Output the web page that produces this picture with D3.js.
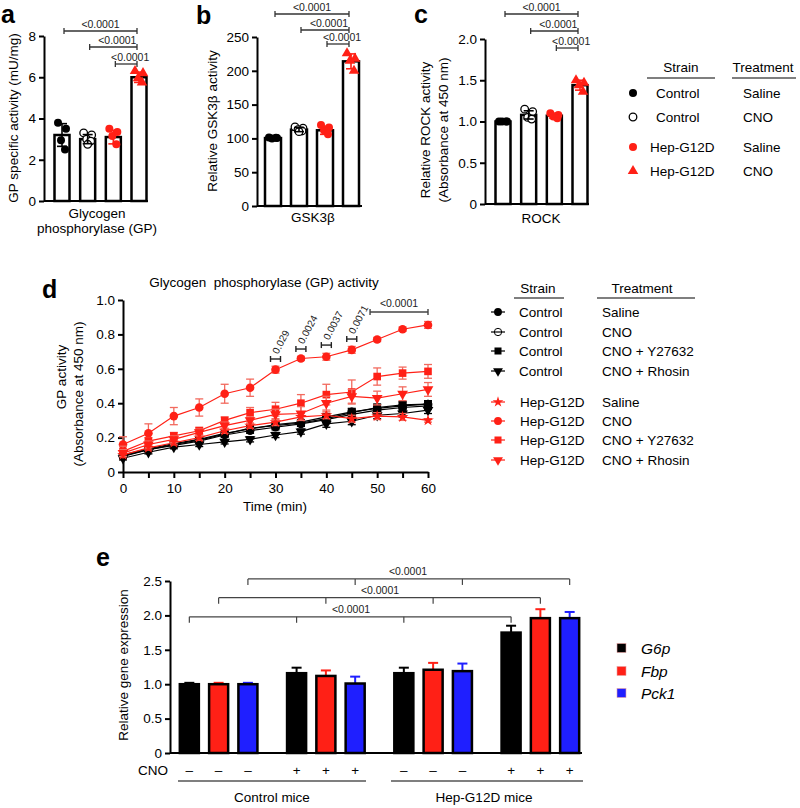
<!DOCTYPE html>
<html>
<head>
<meta charset="utf-8">
<script src="https://cdn.jsdelivr.net/npm/d3@7"></script>
<style>
  body { margin: 0; background: #fff; }
</style>
</head>
<body>
<div id="container"></div>
<script>
const FONT = '"Liberation Sans", Arial, Helvetica, sans-serif';
const RED = "#ff2016";
const BLUE = "#1f1fff";

// ---- panels a, b, c ----
const groups = ["Control Saline", "Control CNO", "Hep-G12D Saline", "Hep-G12D CNO"];
const gpMean = [3.2, 3.0, 3.1, 6.0];
const gpSD = [0.55, 0.22, 0.33, 0.25];
const gpPts = [[3.8, 3.5, 2.95, 2.5], [3.3, 3.2, 3.0, 2.9, 2.75], [3.5, 3.35, 3.15, 2.75], [6.3, 6.2, 5.95, 5.75]];
const gskMean = [100.5, 113, 112, 214];
const gskSD = [1.2, 3, 6, 11];
const gskPts = [[101.5, 100.5, 100, 101], [117, 115, 113, 111, 110], [120, 116, 112, 106], [226, 218, 215, 200]];
const rockMean = [1.0, 1.08, 1.07, 1.44];
const rockSD = [0.01, 0.05, 0.03, 0.06];
const rockPts = [[1.0, 1.0, 1.0, 1.0], [1.15, 1.12, 1.05, 1.03], [1.1, 1.08, 1.06, 1.04], [1.5, 1.47, 1.44, 1.36]];
const pLabel = "<0.0001";

// ---- panel d ----
const timeMin = [0, 5, 10, 15, 20, 25, 30, 35, 40, 45, 50, 55, 60];
const ctrlSaline = [0.09, 0.13, 0.155, 0.18, 0.215, 0.24, 0.26, 0.28, 0.305, 0.335, 0.36, 0.375, 0.385];
const ctrlCNO = [0.10, 0.135, 0.165, 0.19, 0.225, 0.25, 0.275, 0.29, 0.32, 0.35, 0.37, 0.385, 0.395];
const ctrlY = [0.095, 0.13, 0.16, 0.185, 0.22, 0.255, 0.27, 0.285, 0.31, 0.345, 0.375, 0.39, 0.395];
const ctrlRho = [0.08, 0.115, 0.145, 0.16, 0.175, 0.19, 0.215, 0.235, 0.28, 0.295, 0.33, 0.34, 0.36];
const hepSaline = [0.10, 0.14, 0.17, 0.20, 0.24, 0.27, 0.29, 0.32, 0.33, 0.31, 0.325, 0.32, 0.30];
const hepCNO = [0.16, 0.225, 0.325, 0.375, 0.455, 0.49, 0.595, 0.66, 0.67, 0.71, 0.77, 0.83, 0.855];
const hepY = [0.12, 0.18, 0.21, 0.24, 0.30, 0.345, 0.365, 0.40, 0.45, 0.465, 0.555, 0.575, 0.585];
const hepRho = [0.11, 0.16, 0.19, 0.23, 0.27, 0.30, 0.335, 0.34, 0.40, 0.44, 0.43, 0.455, 0.48];
const ctrlErr = [0.01, 0.01, 0.01, 0.012, 0.012, 0.015, 0.015, 0.015, 0.02, 0.02, 0.02, 0.02, 0.02];
const hepSalineErr = [0.01, 0.012, 0.012, 0.015, 0.015, 0.015, 0.02, 0.02, 0.02, 0.02, 0.02, 0.02, 0.01];
const hepCNOErr = [0.045, 0.055, 0.05, 0.05, 0.055, 0.05, 0.02, 0.012, 0.02, 0.02, 0.012, 0.012, 0.02];
const hepYErr = [0.03, 0.02, 0.02, 0.02, 0.02, 0.03, 0.04, 0.05, 0.06, 0.07, 0.05, 0.035, 0.04];
const hepRhoErr = [0.02, 0.02, 0.02, 0.02, 0.02, 0.02, 0.03, 0.04, 0.04, 0.04, 0.04, 0.04, 0.04];
const sigTimes = [30, 35, 40, 45];
const sigLabels = ["0.029", "0.0024", "0.0037", "0.0071"];
const sigLevels = [0.657, 0.715, 0.738, 0.773];

// ---- panel e ----
const eGroups = ["Control -", "Control +", "Hep-G12D -", "Hep-G12D +"];
const genes = ["G6p", "Fbp", "Pck1"];
const g6pMean = [1.0, 1.16, 1.16, 1.75];
const g6pErr = [0.02, 0.08, 0.08, 0.1];
const fbpMean = [1.0, 1.12, 1.21, 1.96];
const fbpErr = [0.02, 0.08, 0.1, 0.13];
const pck1Mean = [1.0, 1.01, 1.19, 1.96];
const pck1Err = [0.02, 0.1, 0.11, 0.09];
const cnoSigns = ["–", "+", "–", "+"];

const svg = d3.select("#container").append("svg")
  .attr("width", 800).attr("height", 808)
  .style("background", "#fff")
  .attr("font-family", FONT);

function txt(x, y, s, size, anchor, extra) {
  const t = svg.append("text").attr("x", x).attr("y", y).text(s)
    .attr("font-size", size).attr("text-anchor", anchor || "start").attr("fill", "#000");
  if (extra) extra(t);
  return t;
}

function styleAxis(g, size) {
  g.attr("font-family", FONT);
  g.select(".domain").attr("stroke", "#000").attr("stroke-width", 2);
  g.selectAll(".tick line").attr("stroke", "#000").attr("stroke-width", 2);
  g.selectAll(".tick text").attr("font-size", size || 13).attr("fill", "#000");
}

function marker(sel, kind, x, y) {
  if (kind === 0) sel.append("circle").attr("cx", x).attr("cy", y).attr("r", 4).attr("fill", "#000");
  else if (kind === 1) sel.append("circle").attr("cx", x).attr("cy", y).attr("r", 3.8).attr("fill", "#fff").attr("stroke", "#000").attr("stroke-width", 1.3);
  else if (kind === 2) sel.append("circle").attr("cx", x).attr("cy", y).attr("r", 4).attr("fill", RED);
  else sel.append("path").attr("d", d3.symbol(d3.symbolTriangle, 48)())
    .attr("transform", `translate(${x},${y})`).attr("fill", RED);
}

const jit = [-4, 4, -1, 3, 0];

function barPanel(cfg) {
  const x = d3.scalePoint().domain(groups).range(cfg.xr);
  const y = d3.scaleLinear().domain(cfg.yd).range(cfg.yr);
  const g = svg.append("g");
  g.append("g").attr("transform", `translate(${cfg.ax},0)`)
    .call(d3.axisLeft(y).tickValues(cfg.ticks).tickFormat(cfg.fmt).tickSize(5).tickSizeOuter(0))
    .call(a => styleAxis(a, 13.5));
  g.append("line").attr("x1", cfg.ax).attr("x2", cfg.xend)
    .attr("y1", y(0)).attr("y2", y(0)).attr("stroke", "#000").attr("stroke-width", 2);
  const bw = cfg.bw;
  groups.forEach((gr, i) => {
    g.append("rect").attr("x", x(gr) - bw / 2).attr("y", y(cfg.mean[i]))
      .attr("width", bw).attr("height", y(0) - y(cfg.mean[i]))
      .attr("fill", "#fff").attr("stroke", "#000").attr("stroke-width", 2.5);
    cfg.pts[i].forEach((v, j) => marker(g, i, x(gr) + jit[j], y(v)));
    const col = i < 2 ? "#000" : RED;
    const y1 = y(cfg.mean[i] - cfg.sd[i]), y2 = y(cfg.mean[i] + cfg.sd[i]);
    g.append("line").attr("x1", x(gr)).attr("x2", x(gr)).attr("y1", y1).attr("y2", y2).attr("stroke", col).attr("stroke-width", 1.6);
    [y1, y2].forEach(yy => g.append("line").attr("x1", x(gr) - 5).attr("x2", x(gr) + 5)
      .attr("y1", yy).attr("y2", yy).attr("stroke", col).attr("stroke-width", 1.6));
  });
  // significance brackets
  cfg.brackets.forEach((yy, k) => {
    const x1 = x(groups[k]) + 2, x2 = x(groups[3]) - 2;
    g.append("line").attr("x1", x1).attr("x2", x2).attr("y1", yy).attr("y2", yy).attr("stroke", "#333").attr("stroke-width", 1.3);
    [x1, x2].forEach(xx => g.append("line").attr("x1", xx).attr("x2", xx).attr("y1", yy - 3).attr("y2", yy + 3).attr("stroke", "#333").attr("stroke-width", 1.3));
    g.append("text").attr("x", (x1 + x2) / 2 + (k === 0 ? 0 : 4)).attr("y", yy - 3).text(pLabel)
      .attr("font-size", 10.5).attr("text-anchor", "middle").attr("fill", "#222");
  });
}

// panel a
barPanel({ xr: [62, 139], ax: 44, xend: 148, bw: 15, yd: [0, 8], yr: [201, 36],
  ticks: [0, 2, 4, 6, 8], fmt: d3.format("d"), mean: gpMean, sd: gpSD, pts: gpPts, brackets: [31, 47, 64] });
// panel b
barPanel({ xr: [273, 351], ax: 257, xend: 362, bw: 16, yd: [0, 250], yr: [206, 37],
  ticks: [0, 50, 100, 150, 200, 250], fmt: d3.format("d"), mean: gskMean, sd: gskSD, pts: gskPts, brackets: [14, 30, 44] });
// panel c
barPanel({ xr: [503, 580], ax: 485, xend: 589, bw: 15, yd: [0, 2], yr: [204, 39],
  ticks: [0, 0.5, 1, 1.5, 2], fmt: d => d === 0 ? "0" : d3.format(".1f")(d), mean: rockMean, sd: rockSD, pts: rockPts, brackets: [14, 31, 48] });

const rot = (x, y) => t => t.attr("transform", `rotate(-90,${x},${y})`);
txt(18, 118, "GP specific activity (mU/mg)", 13.5, "middle", rot(18, 118));
txt(97, 218, "Glycogen", 13.5, "middle");
txt(97, 233, "phosphorylase (GP)", 13.5, "middle");
txt(217, 121, "Relative GSK3β activity", 13.5, "middle", rot(217, 121));
txt(313, 222, "GSK3β", 13.5, "middle");
txt(430, 130, "Relative ROCK activity", 13.5, "middle", rot(430, 130));
txt(448, 130, "(Absorbance at 450 nm)", 13.5, "middle", rot(448, 130));
txt(541, 223, "ROCK", 13.5, "middle");

// panel letters
[["a", 1, 23], ["b", 196, 24], ["c", 414, 23], ["d", 42, 298], ["e", 96, 566]].forEach(l =>
  txt(l[1], l[2], l[0], 25, "start", t => t.attr("font-weight", "bold")));

// top legend
const legTop = [["Control", "Saline"], ["Control", "CNO"], ["Hep-G12D", "Saline"], ["Hep-G12D", "CNO"]];
const legTopY = [93, 117, 147, 171];
txt(681, 72, "Strain", 13.5, "middle");
txt(763, 72, "Treatment", 13.5, "middle");
svg.append("line").attr("x1", 647).attr("x2", 715).attr("y1", 78).attr("y2", 78).attr("stroke", "#000").attr("stroke-width", 1.2);
svg.append("line").attr("x1", 732).attr("x2", 796).attr("y1", 78).attr("y2", 78).attr("stroke", "#000").attr("stroke-width", 1.2);
legTop.forEach((r, i) => {
  marker(svg, i, 633, legTopY[i]);
  txt(r[0] === "Control" ? 656 : 650, legTopY[i] + 5, r[0], 13.5);
  txt(743, legTopY[i] + 5, r[1], 13.5);
});

// ---- panel d ----
const xd = d3.scaleLinear().domain([0, 60]).range([123, 428]);
const yd = d3.scaleLinear().domain([0, 1]).range([472, 300]);
const gd = svg.append("g");
gd.append("g").attr("transform", "translate(123,0)")
  .call(d3.axisLeft(yd).tickValues([0, 0.2, 0.4, 0.6, 0.8, 1.0]).tickFormat(d => d === 0 ? "0" : d3.format(".1f")(d)).tickSize(5).tickSizeOuter(0))
  .call(a => styleAxis(a, 13.5));
gd.append("g").attr("transform", "translate(0,472)")
  .call(d3.axisBottom(xd).tickValues(d3.range(0, 61, 5)).tickFormat(d => d % 10 === 0 ? d : "").tickSize(6).tickSizeOuter(0).tickPadding(5))
  .call(a => styleAxis(a, 13.5));

const dSeries = [
  { strain: "Control", treat: "Saline", vals: ctrlSaline, err: ctrlErr, col: "#000", sym: "circle" },
  { strain: "Control", treat: "CNO", vals: ctrlCNO, err: ctrlErr, col: "#000", sym: "open" },
  { strain: "Control", treat: "CNO + Y27632", vals: ctrlY, err: ctrlErr, col: "#000", sym: "square" },
  { strain: "Control", treat: "CNO + Rhosin", vals: ctrlRho, err: ctrlErr, col: "#000", sym: "down" },
  { strain: "Hep-G12D", treat: "Saline", vals: hepSaline, err: hepSalineErr, col: RED, sym: "star" },
  { strain: "Hep-G12D", treat: "CNO", vals: hepCNO, err: hepCNOErr, col: RED, sym: "circle" },
  { strain: "Hep-G12D", treat: "CNO + Y27632", vals: hepY, err: hepYErr, col: RED, sym: "square" },
  { strain: "Hep-G12D", treat: "CNO + Rhosin", vals: hepRho, err: hepRhoErr, col: RED, sym: "down" }
];

function dMarker(sel, s, x, y, big) {
  const k = big ? 1 : 0.85;
  if (s.sym === "circle") sel.append("path").attr("d", d3.symbol(d3.symbolCircle, 58 * k)()).attr("transform", `translate(${x},${y})`).attr("fill", s.col);
  else if (s.sym === "open") sel.append("path").attr("d", d3.symbol(d3.symbolCircle, 50 * k)()).attr("transform", `translate(${x},${y})`).attr("fill", "none").attr("stroke", s.col).attr("stroke-width", 1);
  else if (s.sym === "square") sel.append("path").attr("d", d3.symbol(d3.symbolSquare, 58 * k)()).attr("transform", `translate(${x},${y})`).attr("fill", s.col);
  else if (s.sym === "down") sel.append("path").attr("d", d3.symbol(d3.symbolTriangle, 50 * k)()).attr("transform", `translate(${x},${y}) rotate(180)`).attr("fill", s.col);
  else sel.append("path").attr("d", d3.symbol(d3.symbolStar, 42 * k)()).attr("transform", `translate(${x},${y})`).attr("fill", s.col);
}

const lineD = d3.line().x((d, i) => xd(timeMin[i])).y(d => yd(d));
dSeries.forEach(s => {
  gd.append("path").attr("d", lineD(s.vals)).attr("fill", "none").attr("stroke", s.col).attr("stroke-width", 1.2);
  s.vals.forEach((v, i) => {
    const xx = xd(timeMin[i]), y1 = yd(v - s.err[i]), y2 = yd(v + s.err[i]);
    const ec = s.col === RED ? "#f26a5e" : "#000";
    gd.append("line").attr("x1", xx).attr("x2", xx).attr("y1", y1).attr("y2", y2).attr("stroke", ec).attr("stroke-width", 1.3);
    [y1, y2].forEach(yy => gd.append("line").attr("x1", xx - 4).attr("x2", xx + 4).attr("y1", yy).attr("y2", yy).attr("stroke", ec).attr("stroke-width", 1.3));
  });
  s.vals.forEach((v, i) => dMarker(gd, s, xd(timeMin[i]), yd(v), true));
});

// d significance
sigTimes.forEach((t, i) => {
  const yy = yd(sigLevels[i]), x1 = xd(t) - 5, x2 = xd(t) + 5;
  gd.append("line").attr("x1", x1).attr("x2", x2).attr("y1", yy).attr("y2", yy).attr("stroke", "#222").attr("stroke-width", 1.4);
  [x1, x2].forEach(xx => gd.append("line").attr("x1", xx).attr("x2", xx).attr("y1", yy - 3).attr("y2", yy + 3).attr("stroke", "#222").attr("stroke-width", 1.4));
  gd.append("text").attr("x", xd(t) - 1).attr("y", yy - 4).text(sigLabels[i])
    .attr("font-size", 10).attr("fill", "#222").attr("transform", `rotate(-62,${xd(t) - 1},${yy - 4})`)
    .attr("dx", 2).attr("dy", 3);
});
{
  const yy = yd(0.93), x1 = xd(48.6), x2 = xd(60);
  gd.append("line").attr("x1", x1).attr("x2", x2).attr("y1", yy).attr("y2", yy).attr("stroke", "#444").attr("stroke-width", 1.4);
  [x1, x2].forEach(xx => gd.append("line").attr("x1", xx).attr("x2", xx).attr("y1", yy - 3).attr("y2", yy + 3).attr("stroke", "#444").attr("stroke-width", 1.4));
  gd.append("text").attr("x", (x1 + x2) / 2).attr("y", yy - 5).text(pLabel).attr("font-size", 10.5).attr("text-anchor", "middle").attr("fill", "#222");
}

txt(264, 287, "Glycogen  phosphorylase (GP) activity", 13.5, "middle", t => t.style("white-space", "pre"));
txt(66, 377, "GP activity", 13.5, "middle", rot(66, 377));
txt(83, 394, "(Absorbance at 450 nm)", 13.5, "middle", rot(83, 394));
txt(275, 511, "Time (min)", 13.5, "middle");

// d legend
const legDY = [312, 332, 351, 371, 402, 421, 440, 460];
txt(538, 293, "Strain", 13.5, "middle");
txt(642, 293, "Treatment", 13.5, "middle");
svg.append("line").attr("x1", 514).attr("x2", 564).attr("y1", 298).attr("y2", 298).attr("stroke", "#000").attr("stroke-width", 1.2);
svg.append("line").attr("x1", 597).attr("x2", 695).attr("y1", 298).attr("y2", 298).attr("stroke", "#000").attr("stroke-width", 1.2);
dSeries.forEach((s, i) => {
  const yy = legDY[i];
  svg.append("line").attr("x1", 491).attr("x2", 505).attr("y1", yy).attr("y2", yy).attr("stroke", s.col).attr("stroke-width", 1.2);
  dMarker(svg, s, 498, yy, false);
  txt(s.strain === "Control" ? 519 : 520, yy + 5, s.strain, 13.5);
  txt(602, yy + 5, s.treat, 13.5);
});

// ---- panel e ----
const xe = d3.scaleBand().domain(eGroups).range([165, 594]);
const xg = d3.scaleBand().domain(genes).range([0, xe.bandwidth()]).paddingInner(0.35).paddingOuter(0.506);
const ye = d3.scaleLinear().domain([0, 2.5]).range([753, 581]);
const ge = svg.append("g");
ge.append("g").attr("transform", "translate(170,0)")
  .call(d3.axisLeft(ye).tickValues([0, 0.5, 1, 1.5, 2, 2.5]).tickFormat(d => d === 0 ? "0" : d3.format(".1f")(d)).tickSize(5).tickSizeOuter(0))
  .call(a => styleAxis(a, 13.5));
ge.append("line").attr("x1", 170).attr("x2", 582).attr("y1", 753).attr("y2", 753).attr("stroke", "#000").attr("stroke-width", 2);

const eMeans = { G6p: g6pMean, Fbp: fbpMean, Pck1: pck1Mean };
const eErrs = { G6p: g6pErr, Fbp: fbpErr, Pck1: pck1Err };
const eCols = { G6p: "#000", Fbp: RED, Pck1: BLUE };
const cx = (gr, gene) => xe(gr) + xg(gene) + xg.bandwidth() / 2;

eGroups.forEach((gr, gi) => {
  genes.forEach(gene => {
    const m = eMeans[gene][gi], e = eErrs[gene][gi], c = cx(gr, gene);
    const yt = ye(m + e);
    ge.append("line").attr("x1", c).attr("x2", c).attr("y1", ye(m)).attr("y2", yt).attr("stroke", eCols[gene]).attr("stroke-width", 2);
    ge.append("line").attr("x1", c - 5).attr("x2", c + 5).attr("y1", yt).attr("y2", yt).attr("stroke", eCols[gene]).attr("stroke-width", 2);
    ge.append("rect").attr("x", xe(gr) + xg(gene)).attr("y", ye(m))
      .attr("width", xg.bandwidth()).attr("height", ye(0) - ye(m))
      .attr("fill", eCols[gene]).attr("stroke", "#000").attr("stroke-width", 2.5);
    txt(c, 775, cnoSigns[gi], 13.5, "middle");
  });
});
txt(168, 775, "CNO", 13.5, "end");

// e brackets: one per gene, drop ticks at each group
const eBr = [["Pck1", 2.53, 408], ["Fbp", 2.257, 380], ["G6p", 1.98, 351]];
eBr.forEach(b => {
  const yy = ye(b[1]);
  const xs = eGroups.map(gr => cx(gr, b[0]));
  ge.append("line").attr("x1", xs[0]).attr("x2", xs[3]).attr("y1", yy).attr("y2", yy).attr("stroke", "#444").attr("stroke-width", 1.2);
  xs.forEach(xx => ge.append("line").attr("x1", xx).attr("x2", xx).attr("y1", yy).attr("y2", yy + 6).attr("stroke", "#444").attr("stroke-width", 1.2));
  ge.append("text").attr("x", b[2]).attr("y", yy - 4).text(pLabel).attr("font-size", 10.5).attr("text-anchor", "middle").attr("fill", "#222");
});

svg.append("line").attr("x1", 178).attr("x2", 366).attr("y1", 781).attr("y2", 781).attr("stroke", "#000").attr("stroke-width", 1.2);
svg.append("line").attr("x1", 391).attr("x2", 583).attr("y1", 781).attr("y2", 781).attr("stroke", "#000").attr("stroke-width", 1.2);
txt(272, 802, "Control mice", 13.5, "middle");
txt(484, 802, "Hep-G12D mice", 13.5, "middle");
txt(128, 665, "Relative gene expression", 13.5, "middle", rot(128, 665));

// e legend
const legEY = [648, 671, 693];
genes.forEach((gene, i) => {
  svg.append("rect").attr("x", 617).attr("y", legEY[i] - 4.5).attr("width", 9).attr("height", 9)
    .attr("fill", eCols[gene]).attr("stroke", "#e8a0a0").attr("stroke-width", 0.6);
  txt(641, legEY[i] + 5.5, gene, 15.5, "start", t => t.attr("font-style", "italic"));
});
</script>
</body>
</html>
